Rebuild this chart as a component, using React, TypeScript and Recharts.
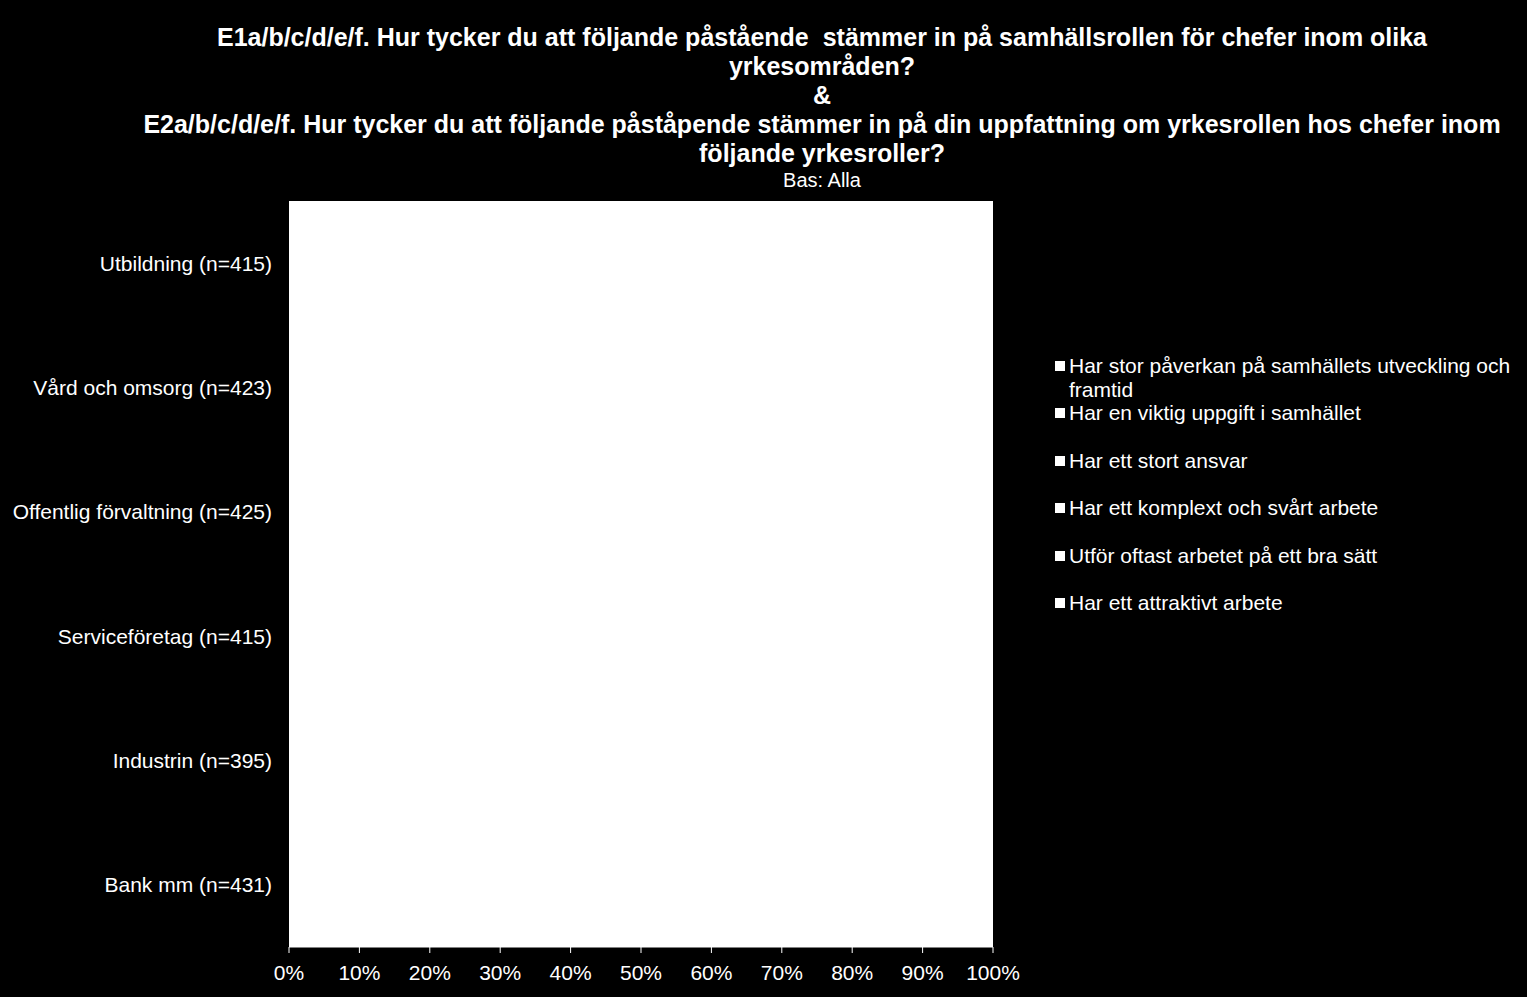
import { BarChart, Bar, XAxis, YAxis, CartesianGrid, Legend } from 'recharts'

const categories = [
  'Utbildning (n=415)',
  'Vård och omsorg (n=423)',
  'Offentlig förvaltning (n=425)',
  'Serviceföretag (n=415)',
  'Industrin (n=395)',
  'Bank mm (n=431)',
]

const seriesNames = [
  'Har stor påverkan på samhällets utveckling och framtid',
  'Har en viktig uppgift i samhället',
  'Har ett stort ansvar',
  'Har ett komplext och svårt arbete',
  'Utför oftast arbetet på ett bra sätt',
  'Har ett attraktivt arbete',
]

// bars are white on the white plot area in the reference, values estimated
const paverkan = [78, 70, 68, 45, 62, 58]
const viktig = [90, 88, 72, 55, 70, 60]
const ansvar = [85, 84, 75, 58, 72, 74]
const komplext = [72, 76, 62, 50, 60, 64]
const braSatt = [55, 52, 45, 58, 62, 56]
const attraktivt = [40, 30, 38, 45, 55, 60]

const xTicks = [0, 10, 20, 30, 40, 50, 60, 70, 80, 90, 100]

const seriesValues = [paverkan, viktig, ansvar, komplext, braSatt, attraktivt]
const keys = ['s0', 's1', 's2', 's3', 's4', 's5']

const data = categories.map((name, i) => {
  const row: Record<string, string | number> = { name }
  keys.forEach((k, j) => {
    row[k] = seriesValues[j][i]
  })
  return row
})

const FONT = '"Liberation Sans", Arial, sans-serif'

const titleLines = [
  'E1a/b/c/d/e/f. Hur tycker du att följande påstående  stämmer in på samhällsrollen för chefer inom olika',
  'yrkesområden?',
  '&',
  'E2a/b/c/d/e/f. Hur tycker du att följande påståpende stämmer in på din uppfattning om yrkesrollen hos chefer inom',
  'följande yrkesroller?',
]

function LegendBox({ payload }: { payload?: any[] }) {
  const items = [...(payload || [])].sort(
    (a, b) => seriesNames.indexOf(a.value) - seriesNames.indexOf(b.value)
  )
  return (
    <div style={{ fontFamily: FONT, fontSize: 21, color: '#fff' }}>
      {items.map((p, i) => (
        <div
          key={i}
          style={{
            position: 'relative',
            paddingLeft: 16,
            lineHeight: '24px',
            height: 47.4,
            width: 460,
          }}
        >
          <span
            style={{
              position: 'absolute',
              left: 2,
              top: 7,
              width: 10,
              height: 10,
              background: p.color,
            }}
          />
          {p.value}
        </div>
      ))}
    </div>
  )
}

export default function App() {
  return (
    <div
      style={{
        position: 'absolute',
        left: 0,
        top: 0,
        width: 1527,
        height: 997,
        background: '#000',
        overflow: 'hidden',
      }}
    >
      <div
        style={{
          position: 'absolute',
          left: 72,
          top: 23,
          width: 1500,
          textAlign: 'center',
          fontFamily: FONT,
          color: '#fff',
        }}
      >
        {titleLines.map((t, i) => (
          <div key={i} style={{ fontSize: 25, fontWeight: 'bold', lineHeight: '29px', whiteSpace: 'pre' }}>
            {t}
          </div>
        ))}
        <div style={{ fontSize: 20, lineHeight: '24px' }}>Bas: Alla</div>
      </div>
      <div style={{ position: 'absolute', left: 0, top: 0 }}>
        <BarChart
          width={1527}
          height={997}
          data={data}
          layout="vertical"
          margin={{ top: 201, right: 534, bottom: 0, left: 0 }}
          barCategoryGap="20%"
          barGap={0}
        >
          <CartesianGrid fill="#fff" stroke="none" horizontal={false} vertical={false} />
          <XAxis
            type="number"
            domain={[0, 100]}
            ticks={xTicks}
            tickFormatter={(v) => `${v}%`}
            height={50}
            interval={0}
            axisLine={{ stroke: '#fff' }}
            tickLine={{ stroke: '#fff' }}
            tickSize={6}
            tickMargin={12}
            tick={{ fill: '#fff', fontSize: 21, fontFamily: FONT }}
          />
          <YAxis
            type="category"
            dataKey="name"
            width={289}
            axisLine={false}
            tickLine={false}
            tickSize={6}
            tickMargin={11}
            interval={0}
            tick={{ fill: '#fff', fontSize: 21, fontFamily: FONT }}
          />
          <Legend
            layout="vertical"
            align="center"
            verticalAlign="middle"
            wrapperStyle={{ position: 'absolute', left: 1053, top: 354, width: 470 }}
            content={(props: any) => <LegendBox payload={props.payload} />}
          />
          {keys.map((k, j) => (
            <Bar
              key={k}
              dataKey={k}
              name={seriesNames[j]}
              fill="#fff"
              isAnimationActive={false}
            />
          ))}
        </BarChart>
      </div>
    </div>
  )
}
